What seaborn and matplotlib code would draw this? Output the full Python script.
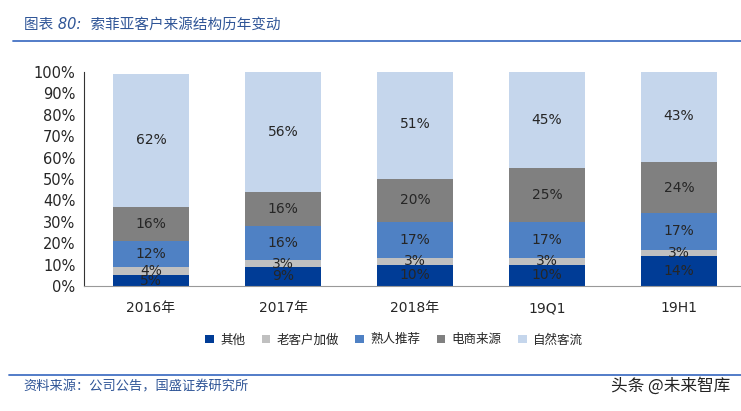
import matplotlib
matplotlib.use('Agg')
import matplotlib.pyplot as plt
import seaborn as sns
import pandas as pd
import numpy as np
from matplotlib.patches import Patch

sns.set_style('white')
plt.rcParams['font.family'] = ['DejaVu Sans', 'Noto Sans CJK SC']

periods = ['2016年', '2017年', '2018年', '19Q1', '19H1']
series = ['其他', '老客户加做', '熟人推荐', '电商来源', '自然客流']
qita = [5, 9, 10, 10, 14]
laokehu = [4, 3, 3, 3, 3]
shuren = [12, 16, 17, 17, 17]
dianshang = [16, 16, 20, 25, 24]
ziran = [62, 56, 51, 45, 43]
colors = ['#003C96', '#C0C0C0', '#4F81C4', '#808080', '#C5D6EC']

values = np.array([qita, laokehu, shuren, dianshang, ziran]) / 100
cum = values.cumsum(axis=0)

fig = plt.figure(figsize=(7.41, 4.11), dpi=100)
ax = fig.add_axes([0.113, 0.304, 0.887, 0.521])

# stacked bars: draw cumulative totals from the top layer down
for i in range(len(series) - 1, -1, -1):
    df = pd.DataFrame({'period': periods, 'v': cum[i]})
    sns.barplot(data=df, x='period', y='v', color=colors[i], width=0.58,
                saturation=1, linewidth=0, edgecolor='none', ax=ax, zorder=2)

for i in range(len(series)):
    for j in range(len(periods)):
        mid = cum[i, j] - values[i, j] / 2
        ax.text(j, mid, f'{int(round(values[i, j] * 100))}%', ha='center',
                va='center', fontsize=10, color='#262626', zorder=3)

ax.set_ylim(0, 1)
ax.set_xlim(-0.51, 4.47)
ax.set_yticks(np.arange(0, 1.01, 0.1))
ax.set_yticklabels([f'{int(t)}%' for t in np.arange(0, 101, 10)], fontsize=10.5)
ax.set_xticks(range(len(periods)))
ax.set_xticklabels(periods, fontsize=10,
                   fontfamily=['DejaVu Sans', 'Noto Sans CJK SC'])
ax.tick_params(axis='x', pad=11, length=0)
ax.tick_params(axis='y', pad=6, length=0)
ax.set_xlabel('')
ax.set_ylabel('')
for s in ['top', 'right']:
    ax.spines[s].set_visible(False)
ax.spines['left'].set_color('#333333')
ax.spines['bottom'].set_color('#999999')

handles = [Patch(facecolor=c, edgecolor='none') for c in colors]
fig.legend(handles, series, loc='center', bbox_to_anchor=(0.532, 0.173),
           ncol=5, frameon=False, handlelength=0.7, handleheight=0.7,
           handletextpad=0.5, columnspacing=1.3,
           prop={'family': 'Noto Sans CJK SC', 'size': 9})

# header & footer
fig.text(0.032, 0.942, '图表 80:  索菲亚客户来源结构历年变动', fontsize=10.5,
         color='#2F5597', style='italic', va='center',
         fontfamily=['DejaVu Sans', 'Noto Sans CJK SC'])
fig.add_artist(plt.Line2D([0.018, 1.0], [0.900, 0.900], color='#4472C4', lw=1.3))
fig.add_artist(plt.Line2D([0.012, 1.0], [0.087, 0.087], color='#4472C4', lw=1.3))
fig.text(0.032, 0.058, '资料来源：公司公告，国盛证券研究所', fontsize=9.5,
         color='#2F5597', style='italic', va='center',
         fontfamily='Noto Sans CJK SC')
fig.text(0.985, 0.062, '头条 @未来智库', fontsize=12, color='#222222',
         ha='right', va='center', fontfamily='Noto Sans CJK SC')

fig.savefig('out.png', dpi=100)
